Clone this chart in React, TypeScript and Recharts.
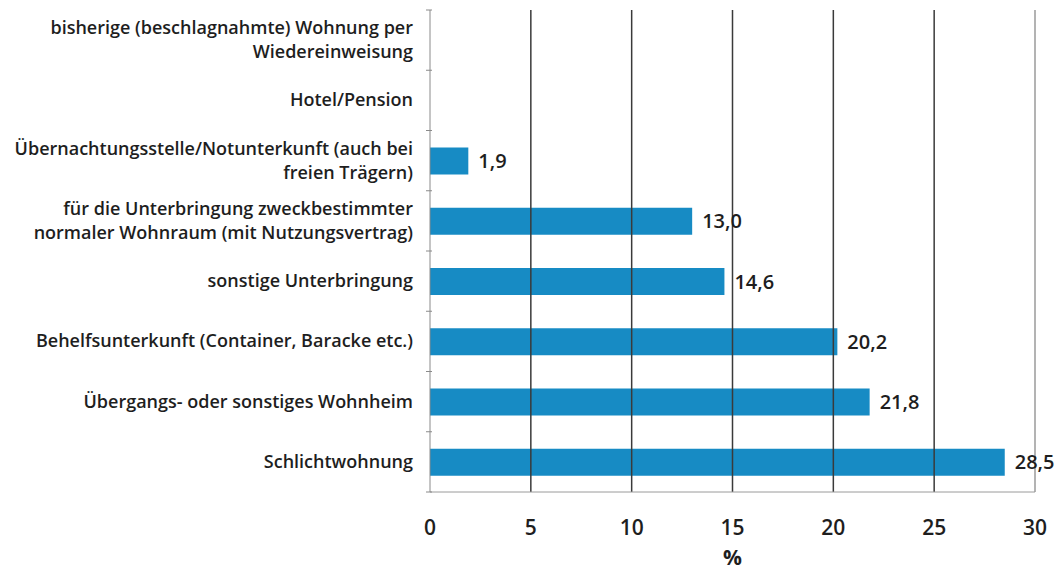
import { BarChart, Bar, XAxis, YAxis, ReferenceLine, LabelList } from 'recharts';

const categories = [
  "bisherige (beschlagnahmte) Wohnung per\nWiedereinweisung",
  "Hotel/Pension",
  "Übernachtungsstelle/Notunterkunft (auch bei\nfreien Trägern)",
  "für die Unterbringung zweckbestimmter\nnormaler Wohnraum (mit Nutzungsvertrag)",
  "sonstige Unterbringung",
  "Behelfsunterkunft (Container, Baracke etc.)",
  "Übergangs- oder sonstiges Wohnheim",
  "Schlichtwohnung",
];
const shares = [0, 0, 1.9, 13.0, 14.6, 20.2, 21.8, 28.5];
const xTicks = [0, 5, 10, 15, 20, 25, 30];

const data = categories.map((name, i) => ({ name, value: shares[i] }));

const FONT = '"Open Sans", sans-serif';
const BAND = 60.25;

const CategoryTick = (props: any) => {
  const { x, y, payload, index } = props;
  const lines: string[] = String(payload.value).split('\n');
  const lh = 24;
  const start = y - ((lines.length - 1) * lh) / 2;
  return (
    <g>
      <line x1={x + 4} x2={x + 10} y1={y - BAND / 2} y2={y - BAND / 2} stroke="#8a8a8a" />
      {index === categories.length - 1 && (
        <line x1={x + 4} x2={x + 10} y1={y + BAND / 2} y2={y + BAND / 2} stroke="#8a8a8a" />
      )}
      <text textAnchor="end" fontFamily={FONT} fontSize={18} fontWeight={600} fill="#1e1e1e">
        {lines.map((l, i) => (
          <tspan key={i} x={x - 9} y={start + i * lh} dy={6}>{l}</tspan>
        ))}
      </text>
    </g>
  );
};

export default function App() {
  return (
    <div style={{ background: '#fff', width: 1055, height: 571 }}>
      <style>{'html,body{margin:0;padding:0;overflow:hidden;background:#fff}'}</style>
      <BarChart
        width={1055}
        height={571}
        data={data}
        layout="vertical"
        margin={{ top: 10, right: 20, left: 0, bottom: 0 }}
      >
        {xTicks.filter((t) => t > 0).map((t) => (
          <ReferenceLine key={t} x={t} stroke={t === 30 ? '#9a9a9a' : '#3a3a3a'} strokeWidth={1.5} />
        ))}
        <XAxis
          type="number"
          domain={[0, 30]}
          ticks={xTicks}
          axisLine={{ stroke: '#9a9a9a' }}
          tickLine={false}
          height={79}
          tick={{ fontFamily: FONT, fontSize: 21, fontWeight: 600, fill: '#1e1e1e', dy: 20 }}
          label={{ value: '%', position: 'insideBottom', offset: 6, fontFamily: FONT, fontSize: 21, fontWeight: 700, fill: '#1e1e1e' }}
        />
        <YAxis
          type="category"
          dataKey="name"
          width={430}
          axisLine={{ stroke: '#8a8a8a' }}
          tickLine={false}
          tick={<CategoryTick />}
          interval={0}
        />
        <Bar dataKey="value" fill="#178bc4" barSize={27} isAnimationActive={false}>
          <LabelList
            dataKey="value"
            position="right"
            offset={10}
            formatter={(v: any) => (v ? Number(v).toFixed(1).replace('.', ',') : '')}
            style={{ fontFamily: FONT, fontSize: 20, fontWeight: 600, fill: '#1e1e1e' }}
          />
        </Bar>
      </BarChart>
    </div>
  );
}
